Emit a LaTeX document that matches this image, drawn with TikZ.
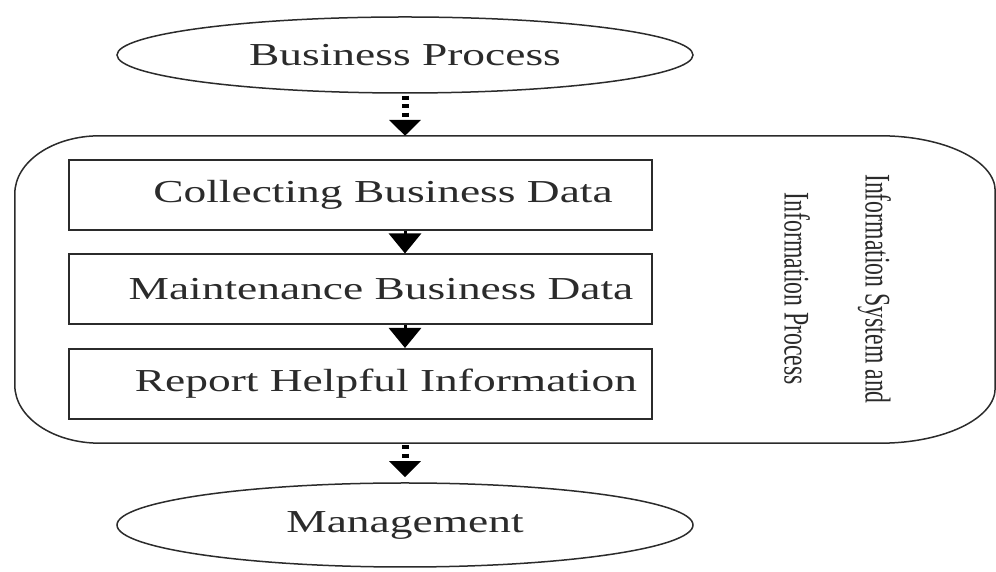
\documentclass[tikz,border=0pt]{standalone}
\usepackage{fontspec}
\setmainfont{Liberation Serif}
\usetikzlibrary{arrows.meta,shapes.geometric}
\definecolor{ink}{HTML}{2B2B2B}
\begin{document}
\begin{tikzpicture}[x=1pt,y=1pt,
  ln/.style={draw=ink, line width=1.5pt},
  oval/.style={ellipse, ln, minimum width=576pt, inner sep=0pt, font=\fontsize{32}{38}\selectfont, text=ink},
  stepbox/.style={rectangle, draw=ink, line width=2pt, minimum width=583pt, minimum height=70pt, inner sep=0pt},
  lbl/.style={font=\fontsize{32}{38}\selectfont, text=ink, inner sep=0pt},
  rot/.style={rotate=-90, font=\fontsize{36}{81}\selectfont, text=ink, align=center, inner sep=0pt},
  dotarrow/.style={draw=black, line width=7pt, dash pattern=on 4pt off 4.5pt, shorten <=2pt, -{Triangle[width=31pt,length=16pt]}},
  solidarrow/.style={draw=black, line width=3pt, -{Triangle[width=32pt,length=20pt]}},
]
\useasboundingbox (0,0) rectangle (996,572);
% container
\node[minimum width=980pt, minimum height=307pt, inner sep=0pt] (sys) at (505,282.5) {};
\draw[ln] ([xshift=85pt]sys.north west) -- ([xshift=-115pt]sys.north east)
  arc[start angle=90,end angle=0,x radius=115pt,y radius=55pt]
  -- ([yshift=55pt]sys.south east)
  arc[start angle=0,end angle=-90,x radius=115pt,y radius=55pt]
  -- ([xshift=85pt]sys.south west)
  arc[start angle=270,end angle=180,x radius=85pt,y radius=58pt]
  -- ([yshift=-58pt]sys.north west)
  arc[start angle=180,end angle=90,x radius=85pt,y radius=58pt] -- cycle;
% ellipses
\node[oval, minimum height=76pt] (bp) at (405,517) {\scalebox{1.42}[1]{Business Process}};
\node[oval, minimum height=84pt] (mg) at (405,47) {\scalebox{1.42}[1]{Management}};
% boxes
\node[stepbox] (b1) at (360.5,377) {};
\node[stepbox] (b2) at (360.5,282.5) {};
\node[stepbox] (b3) at (360.5,188) {};
\node[lbl] (t1) at (383,377) {\scalebox{1.42}[1]{Collecting Business Data}};
\node[lbl] (t2) at (381,282.5) {\scalebox{1.42}[1]{Maintenance Business Data}};
\node[lbl] (t3) at (386,188) {\scalebox{1.42}[1]{Report Helpful Information}};
% rotated label
\node[rot] (isp) at (837.5,283) {\scalebox{0.66}[1]{Information System and}\\\scalebox{0.66}[1]{Information Process}};
% arrows
\draw[dotarrow] (bp.south) -- (sys.north -| bp.south);
\draw[solidarrow] (b1.south -| bp.south) -- (b2.north -| bp.south);
\draw[solidarrow] (b2.south -| bp.south) -- (b3.north -| bp.south);
\draw[dotarrow, shorten >=5pt] (sys.south -| bp.south) -- (mg.north);
\end{tikzpicture}
\end{document}
